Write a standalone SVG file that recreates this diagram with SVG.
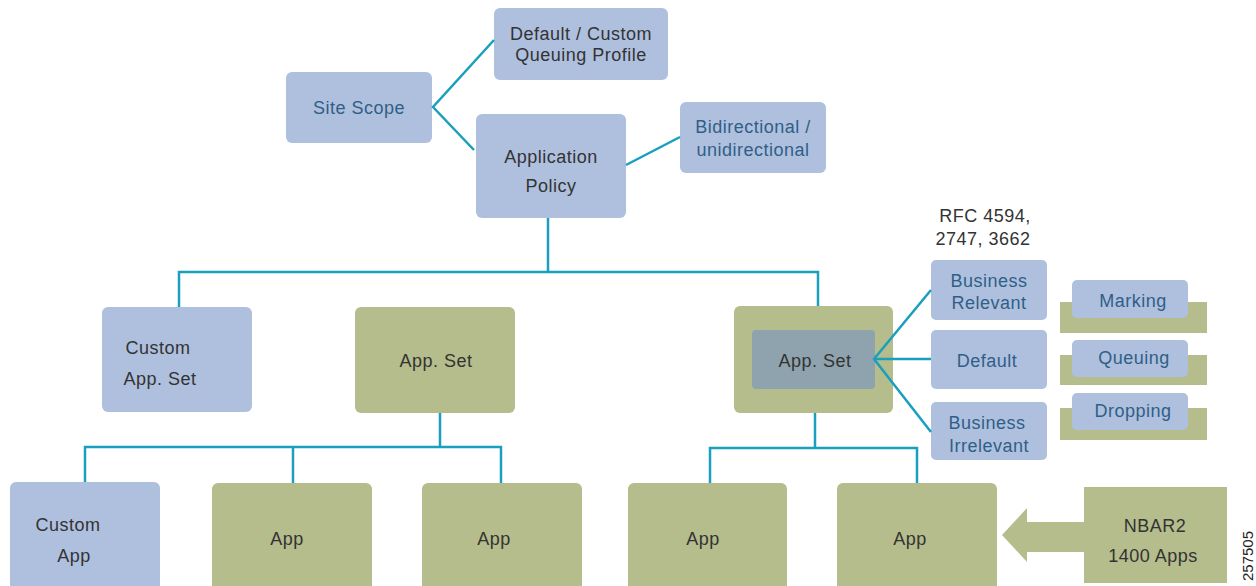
<svg xmlns="http://www.w3.org/2000/svg" width="1256" height="586" viewBox="0 0 1256 586">
<style>
.b{fill:#afc0df}
.o{fill:#b4bd8b}
.d{fill:#8ea3ad}
.t{font-family:"Liberation Sans",Arial,sans-serif;font-size:18px;letter-spacing:0.5px;text-anchor:middle}
.tb{fill:#2f5f86}
.tk{fill:#333333}
.c{fill:none;stroke:#1a9fbf;stroke-width:2.5}
</style>
<rect width="1256" height="586" fill="#ffffff"/>
<g id="site-scope"><rect class="b" x="286" y="72" width="146" height="71" rx="6"/><text class="t tb" x="359" y="114">Site Scope</text></g>
<g id="queuing-profile"><rect class="b" x="494" y="8" width="174" height="72" rx="6"/><text class="t tk" x="581" y="40">Default / Custom</text><text class="t tk" x="581" y="61">Queuing Profile</text></g>
<g id="app-policy"><rect class="b" x="476" y="114" width="150" height="104" rx="6"/><text class="t tk" x="551" y="163">Application</text><text class="t tk" x="551" y="192">Policy</text></g>
<g id="bidirectional"><rect class="b" x="680" y="102" width="146" height="71" rx="6"/><text class="t tb" x="753" y="133">Bidirectional /</text><text class="t tb" x="753" y="156">unidirectional</text></g>
<g id="rfc"><text class="t tk" x="985" y="222">RFC 4594,</text><text class="t tk" x="983" y="245">2747, 3662</text></g>
<g id="custom-app-set"><rect class="b" x="102" y="307" width="150" height="105" rx="6"/><text class="t tk" x="158" y="354">Custom</text><text class="t tk" x="160" y="385">App. Set</text></g>
<g id="app-set-mid"><rect class="o" x="355" y="307" width="160" height="106" rx="6"/><text class="t tk" x="436" y="367">App. Set</text></g>
<g id="app-set-right"><rect class="o" x="734" y="306" width="159" height="107" rx="6"/><rect class="d" x="752" y="330" width="123" height="59" rx="4"/><text class="t tk" x="815" y="367">App. Set</text></g>
<g id="business-relevant"><rect class="b" x="931" y="260" width="116" height="60" rx="5"/><text class="t tb" x="989" y="287">Business</text><text class="t tb" x="989" y="309">Relevant</text></g>
<g id="default"><rect class="b" x="931" y="330" width="116" height="59" rx="5"/><text class="t tb" x="987" y="367">Default</text></g>
<g id="business-irrelevant"><rect class="b" x="931" y="402" width="116" height="58" rx="5"/><text class="t tb" x="987" y="429">Business</text><text class="t tb" x="989" y="452">Irrelevant</text></g>
<g id="marking"><rect class="o" x="1060" y="302" width="147" height="31"/><rect class="b" x="1072" y="280" width="116" height="38" rx="5"/><text class="t tb" x="1133" y="307">Marking</text></g>
<g id="queuing"><rect class="o" x="1060" y="355" width="147" height="30"/><rect class="b" x="1072" y="340" width="116" height="37" rx="5"/><text class="t tb" x="1134" y="364">Queuing</text></g>
<g id="dropping"><rect class="o" x="1060" y="408" width="147" height="32"/><rect class="b" x="1072" y="393" width="116" height="37" rx="5"/><text class="t tb" x="1133" y="417">Dropping</text></g>
<g id="custom-app"><rect class="b" x="10" y="482" width="150" height="110" rx="6"/><text class="t tk" x="68" y="531">Custom</text><text class="t tk" x="74" y="562">App</text></g>
<g id="app1"><rect class="o" x="212" y="483" width="160" height="110" rx="6"/><text class="t tk" x="287" y="545">App</text></g>
<g id="app2"><rect class="o" x="422" y="483" width="160" height="110" rx="6"/><text class="t tk" x="494" y="545">App</text></g>
<g id="app3"><rect class="o" x="628" y="483" width="159" height="110" rx="6"/><text class="t tk" x="703" y="545">App</text></g>
<g id="app4"><rect class="o" x="837" y="483" width="160" height="110" rx="6"/><text class="t tk" x="910" y="545">App</text></g>
<g id="nbar-arrow"><polygon class="o" points="1002,535 1027,508 1027,522 1086,522 1086,552 1027,552 1027,562"/></g>
<g id="nbar2"><rect class="o" x="1084" y="487" width="143" height="96"/><text class="t tk" x="1155" y="532">NBAR2</text><text class="t tk" x="1153" y="562">1400 Apps</text></g>
<g id="connectors">
<polyline class="c" points="494,40 433,107 474,150"/>
<line class="c" x1="626" y1="165" x2="680" y2="137"/>
<polyline class="c" points="548,218 548,272"/>
<polyline class="c" points="179,307 179,272 818,272 818,306"/>
<polyline class="c" points="931,290 874,359 931,432"/>
<line class="c" x1="874" y1="359" x2="931" y2="359"/>
<polyline class="c" points="440,413 440,447"/>
<polyline class="c" points="85,482 85,447 501,447 501,483"/>
<line class="c" x1="293" y1="447" x2="293" y2="483"/>
<polyline class="c" points="815,413 815,448"/>
<polyline class="c" points="710,483 710,448 917,448 917,483"/>
</g>
<text x="1253" y="556" transform="rotate(-90 1253 556)" style="font-family:'Liberation Sans',Arial,sans-serif;font-size:15px;text-anchor:middle;fill:#222">257505</text>
</svg>
